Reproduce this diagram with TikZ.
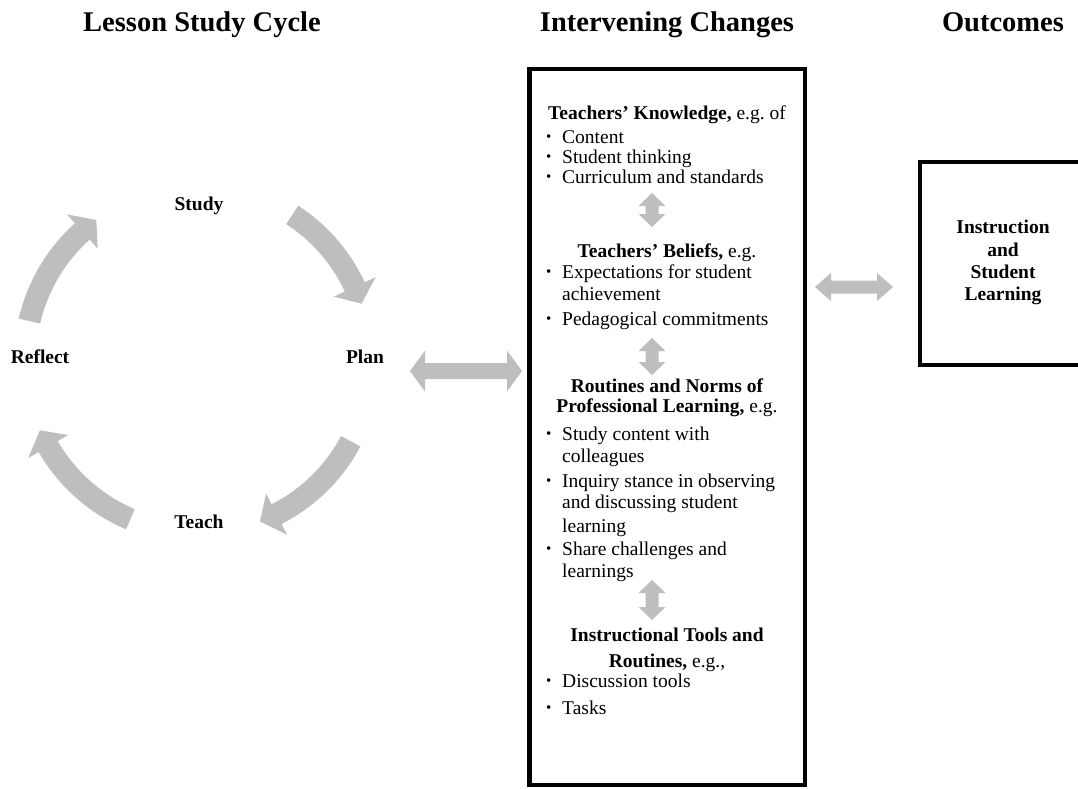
\documentclass[tikz,border=0pt]{standalone}
\usepackage{fontspec}
\setmainfont{Liberation Serif}
\frenchspacing
\definecolor{agray}{RGB}{190,190,190}
\newcommand\bul{\makebox[16pt][l]{\raisebox{1.2pt}{\fontsize{15}{15}\selectfont\textbullet}}}
% horizontal double block arrow: x1, x2, y, shaft half, head half, head length
\newcommand\hdbl[6]{\fill[agray] (#1,#3) -- (#1+#6,#3-#5) -- (#1+#6,#3-#4) -- (#2-#6,#3-#4) -- (#2-#6,#3-#5) -- (#2,#3) -- (#2-#6,#3+#5) -- (#2-#6,#3+#4) -- (#1+#6,#3+#4) -- (#1+#6,#3+#5) -- cycle;}
% vertical double block arrow: x, y1, y2, shaft half, head half, head length
\newcommand\vdbl[6]{\fill[agray] (#1,#2) -- (#1+#5,#2+#6) -- (#1+#4,#2+#6) -- (#1+#4,#3-#6) -- (#1+#5,#3-#6) -- (#1,#3) -- (#1-#5,#3-#6) -- (#1-#4,#3-#6) -- (#1-#4,#2+#6) -- (#1-#5,#2+#6) -- cycle;}
% curved cycle arrow: start angle, tip angle (math angles, clockwise)
\newcommand\cycarrow[2]{%
  \pgfmathsetmacro\aS{-(#1)}\pgfmathsetmacro\aT{-(#2)}\pgfmathsetmacro\aB{-(#2)-6}%
  \fill[agray] (\aS:184) arc[start angle=\aS, end angle=\aB, radius=184] -- (\aB:196) -- (\aT:173) -- (\aB:150) -- (\aB:162) arc[start angle=\aB, end angle=\aS, radius=162] -- cycle;}
\begin{document}
\begin{tikzpicture}[x=1pt,y=-1pt,
  title/.style={font=\fontsize{28.5}{30}\selectfont\bfseries, inner sep=0pt, anchor=base},
  body/.style={font=\fontsize{19.5}{22}\selectfont, inner sep=0pt, anchor=base west},
  head/.style={font=\fontsize{19.5}{22}\selectfont, inner sep=0pt, anchor=base},
  lbl/.style={font=\fontsize{19.5}{22}\selectfont\bfseries, inner sep=0pt, anchor=base},
  frame/.style={draw=black, line width=4.5pt, inner sep=0pt, outer sep=0pt, anchor=north west}]
\useasboundingbox (0,0) rectangle (1078,789);
\fill[white] (0,0) rectangle (1078,789);

% titles
\node[title] (t1) at (202,32) {Lesson Study Cycle};
\node[title] (t2) at (667,32) {Intervening Changes};
\node[title] (t3) at (1003,32) {Outcomes};

% cycle
\node[lbl] (study) at (199,210) {Study};
\node[lbl] (plan) at (365,363) {Plan};
\node[lbl] (reflect) at (40,363) {Reflect};
\node[lbl] (teach) at (199,528) {Teach};
\begin{scope}[shift={(198,360)}]
  \cycarrow{57}{19}
  \cycarrow{-28}{-69}
  \cycarrow{-113}{-156}
  \cycarrow{167}{126}
\end{scope}

% boxes
\node[frame, minimum width=275.5, minimum height=716] (box) at (529.5,69) {};
\node[frame, minimum width=200, minimum height=203] (out) at (920,162) {};

% connectors
\hdbl{410}{522}{371}{8}{20.5}{15}
\hdbl{815}{893}{287}{6.5}{14}{16}
\vdbl{652}{193}{227}{6.5}{13.5}{13}
\vdbl{652}{338}{375}{6.5}{13.5}{13}
\vdbl{652}{580}{620}{6.5}{13.5}{13}

% middle box text
\node[head] (k0) at (667,120) {\textbf{Teachers’ Knowledge,} e.g. of};
\node[body] (k1) at (546,143) {\bul Content};
\node[body] (k2) at (546,163) {\bul Student thinking};
\node[body] (k3) at (546,183) {\bul Curriculum and standards};

\node[head] (b0) at (667,257) {\textbf{Teachers’ Beliefs,} e.g.};
\node[body] (b1) at (546,278) {\bul Expectations for student};
\node[body] (b1b) at (562,300) {achievement};
\node[body] (b2) at (546,325) {\bul Pedagogical commitments};

\node[head] (r0) at (667,392) {\textbf{Routines and Norms of}};
\node[head] (r0b) at (667,412) {\textbf{Professional Learning,} e.g.};
\node[body] (r1) at (546,440) {\bul Study content with};
\node[body] (r1b) at (562,462) {colleagues};
\node[body] (r2) at (546,487) {\bul Inquiry stance in observing};
\node[body] (r2b) at (562,508) {and discussing student};
\node[body] (r2c) at (562,532) {learning};
\node[body] (r3) at (546,555) {\bul Share challenges and};
\node[body] (r3b) at (562,577) {learnings};

\node[head] (i0) at (667,641) {\textbf{Instructional Tools and}};
\node[head] (i0b) at (667,667) {\textbf{Routines,} e.g.,};
\node[body] (i1) at (546,687) {\bul Discussion tools};
\node[body] (i2) at (546,714) {\bul Tasks};

% outcome box text
\node[lbl] (o1) at (1003,233) {Instruction};
\node[lbl] (o2) at (1003,256) {and};
\node[lbl] (o3) at (1003,278) {Student};
\node[lbl] (o4) at (1003,300) {Learning};
\end{tikzpicture}
\end{document}
